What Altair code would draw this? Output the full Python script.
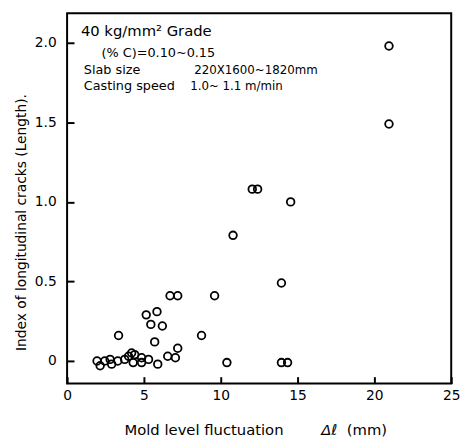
import altair as alt
import pandas as pd

# Data
x_mm = [1.95, 2.15, 2.45, 2.8, 2.9, 3.3, 3.35, 3.75, 4.0, 4.2, 4.3, 4.4, 4.85, 4.85,
        5.15, 5.3, 5.45, 5.7, 5.85, 5.9, 6.2, 6.55, 6.7, 7.05, 7.2, 7.2, 8.75, 9.6,
        10.4, 10.8, 12.05, 12.4, 13.95, 13.95, 14.35, 14.55, 20.95, 20.95]
y_idx = [0.00, -0.03, 0.00, 0.01, -0.02, 0.00, 0.16, 0.01, 0.03, 0.05, -0.01, 0.04, 0.02, -0.01,
         0.29, 0.01, 0.23, 0.12, 0.31, -0.02, 0.22, 0.03, 0.41, 0.02, 0.41, 0.08, 0.16, 0.41,
         -0.01, 0.79, 1.08, 1.08, 0.49, -0.01, -0.01, 1.00, 1.98, 1.49]
x_label_vals = [0, 5, 10, 15, 20, 25]
y_tick_vals = [0, 0.5, 1.0, 1.5, 2.0]

W, H = 390, 376
FONT = "DejaVu Sans"
TICK = 7

df = pd.DataFrame({"x": x_mm, "y": y_idx})
xs = alt.Scale(domain=[0, 25], nice=False, zero=False)
ys = alt.Scale(domain=[-0.142, 2.186], nice=False, zero=False)

# axes shifted inward by the tick length so that the ticks point into the plot;
# the frame itself is drawn by the view stroke
x_axis = alt.Axis(
    values=x_label_vals, ticks=True, tickSize=TICK, tickWidth=2, tickColor="black",
    offset=-TICK, domain=False, grid=False, labelPadding=5,
    labelFontSize=14, labelFont=FONT, labelColor="black", labelFlush=False,
    labelOverlap=False, title=None)
y_axis = alt.Axis(
    values=y_tick_vals, ticks=True, tickSize=TICK, tickWidth=2, tickColor="black",
    offset=-TICK, domain=False, grid=False, labelPadding=11,
    labelExpr="datum.value == 0 ? '0' : format(datum.value, '.1f')",
    labelFontSize=14, labelFont=FONT, labelColor="black", labelFlush=False,
    labelOverlap=False,
    title="Index of longitudinal cracks  (Length).", titleFont=FONT,
    titleFontSize=14, titleFontWeight="normal", titleColor="black",
    titleAngle=270, titleX=-46 - TICK, titleY=212, titleBaseline="middle",
    titleAlign="center")

points = alt.Chart(df).mark_point(
    shape="circle", filled=False, color="black", size=60, strokeWidth=1.8, opacity=1
).encode(
    x=alt.X("x:Q", scale=xs, axis=x_axis),
    y=alt.Y("y:Q", scale=ys, axis=y_axis),
)

dummy = pd.DataFrame({"a": [0]})

def label(txt, px, py, size=13, align="left", italic=False):
    return alt.Chart(dummy).mark_text(
        align=align, baseline="middle", fontSize=size, font=FONT, color="black", text=txt,
        fontStyle="italic" if italic else "normal"
    ).encode(x=alt.value(px), y=alt.value(py))

texts = [
    label("40 kg/mm\u00b2  Grade", 14, 18, 15),
    label("(% C)=0.10~0.15", 35, 40, 13),
    label("Slab size", 17, 58, 13),
    label("220X1600~1820mm", 129, 58, 12),
    label("Casting speed", 17, 74, 13),
    label("1.0~ 1.1 m/min", 125, 74, 12),
    label("Mold level fluctuation", 139, H + 47, 15, align="center"),
    label("\u0394\u2113", 258, H + 47, 15, align="left", italic=True),
    label("(mm)", 284, H + 47, 15, align="left"),
]

chart = alt.layer(points, *texts).properties(
    width=W, height=H, autosize=alt.AutoSizeParams(type="none"),
    padding={"left": 60, "top": 2, "right": 14, "bottom": 55},
    background="white"
).configure_view(stroke="black", strokeWidth=2)

chart.save("out.html", embed_options={"renderer": "svg", "actions": False})
